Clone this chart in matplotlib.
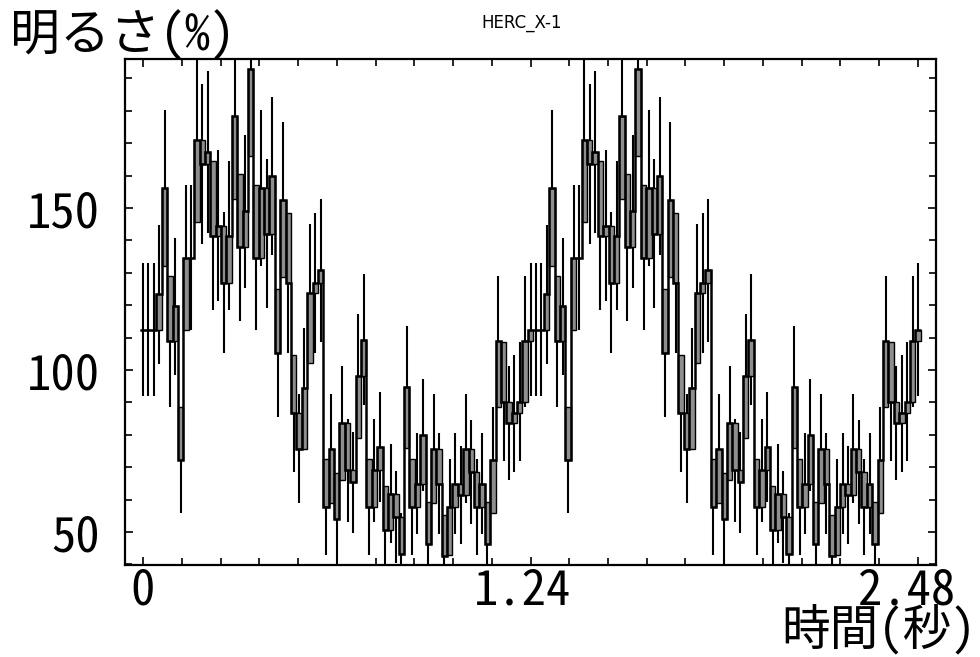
import os, glob
import numpy as np
import matplotlib
matplotlib.use("Agg")
import matplotlib.pyplot as plt
import matplotlib.transforms as mtransforms
from matplotlib import font_manager
from matplotlib.ticker import MultipleLocator, FixedLocator

# ---------------- data (one pulse cycle, shown twice) ----------------
period = 1.24
cycle_values = [112.4, 112.4, 112.4, 123.4, 156.2, 108.8, 119.6, 72.1, 134.6, 134.6,
                170.9, 163.5, 167.3, 141.4, 144.6, 127.0, 141.4, 178.5, 137.9, 149.0,
                192.9, 134.6, 156.2, 142.0, 160.0, 105.2, 152.6, 126.8, 86.6, 75.7,
                94.3, 123.7, 126.8, 130.8, 57.7, 75.7, 54.1, 83.5, 69.0, 65.4,
                98.1, 109.3, 57.7, 69.0, 76.3, 50.5, 61.8, 54.6, 43.2, 94.8,
                57.7, 64.9, 79.9, 46.3, 75.7, 64.9, 42.7, 57.7, 64.9, 61.3,
                75.7, 68.5, 57.7, 64.9, 46.3, 72.1, 108.8, 90.2, 83.5, 86.6,
                90.2, 108.8]
cycle_errors = [20.5, 20.5, 20.5, 21.4, 24.1, 20.1, 21.1, 16.4, 22.4, 22.4,
                25.2, 24.7, 25.0, 23.0, 23.2, 21.7, 23.0, 25.8, 22.7, 23.6,
                26.8, 22.4, 24.1, 23.0, 24.4, 19.8, 23.8, 21.7, 18.0, 16.8,
                18.7, 21.5, 21.7, 22.1, 14.7, 16.8, 14.2, 17.6, 16.0, 15.6,
                19.1, 20.2, 14.7, 16.0, 16.9, 13.7, 15.2, 14.3, 12.7, 18.8,
                14.7, 15.5, 17.3, 13.1, 16.8, 15.5, 12.6, 14.7, 15.5, 15.1,
                16.8, 16.0, 14.7, 15.5, 13.1, 16.4, 20.1, 18.3, 17.6, 18.0,
                18.3, 20.1]
x_tick_values = [0, 1.24, 2.48]
x_tick_labels = ["0", "1.24", "2.48"]
y_tick_values = [50, 100, 150]
y_tick_labels = ["50", "100", "150"]
title = "HERC_X-1"
ylabel = "明るさ(%)"
xlabel = "時間(秒)"

# ---------------- fonts ----------------
big_family = ["Noto Sans CJK JP", "DejaVu Sans"]
try:
    from fontTools.ttLib import TTCollection
    from fontTools import subset
    cands = glob.glob("/usr/share/fonts/**/NotoSansCJK-Regular.ttc", recursive=True)
    if not cands:
        cands = [f.fname for f in font_manager.fontManager.ttflist
                 if f.fname.endswith("NotoSansCJK-Regular.ttc")]
    coll = TTCollection(cands[0])
    target = None
    for fnt in coll.fonts:
        if fnt["name"].getDebugName(1) == "Noto Sans Mono CJK JP":
            target = fnt
            break
    if target is not None:
        opts = subset.Options()
        opts.name_IDs = ["*"]
        opts.name_languages = ["*"]
        opts.notdef_outline = True
        opts.hinting = False
        sub = subset.Subsetter(opts)
        sub.populate(text="0123456789.明るさ(%)時間秒_-HERCX")
        sub.subset(target)
        target.save("nsmono_cjk.otf")
        font_manager.fontManager.addfont("nsmono_cjk.otf")
        big_family = ["Noto Sans Mono CJK JP", "Noto Sans CJK JP", "DejaVu Sans"]
except Exception:
    pass

# ---------------- build series ----------------
vals = np.array(cycle_values + cycle_values + cycle_values[:1])
errs = np.array(cycle_errors + cycle_errors + cycle_errors[:1])
nbin = len(cycle_values)
dx = period / nbin
xc = np.arange(len(vals)) * dx
edges = np.concatenate([xc - dx / 2, [xc[-1] + dx / 2]])

prev = np.concatenate([[vals[0]], vals[:-1]])
diff = prev - vals
box_h = np.sign(diff) * np.minimum(errs, np.abs(diff))

fig = plt.figure(figsize=(9.8, 6.57), dpi=100)
ax = fig.add_axes([125 / 980, 92 / 657, 811 / 980, 506 / 657])

ax.vlines(xc, vals - errs, vals + errs, color="black", linewidth=1.5, zorder=2)
ax.bar(xc, box_h, bottom=vals, width=dx, color="#8e8e8e", edgecolor="black",
       linewidth=1.0, zorder=3)
ax.stairs(vals, edges, baseline=None, color="black", linewidth=1.8, zorder=4)

ax.set_xlim(-0.0577, 2.5377)
ax.set_ylim(39.8, 196.0)

ax.xaxis.set_major_locator(FixedLocator(x_tick_values))
ax.set_xticklabels(x_tick_labels)
ax.xaxis.set_minor_locator(MultipleLocator(0.124))
ax.yaxis.set_major_locator(FixedLocator(y_tick_values))
ax.set_yticklabels(y_tick_labels)
ax.yaxis.set_minor_locator(MultipleLocator(10))

ax.tick_params(which="both", direction="in", top=True, right=True, width=1.2, color="black")
ax.tick_params(which="major", length=6)
ax.tick_params(which="minor", length=5)
ax.tick_params(axis="x", which="major", pad=1, labelsize=35)
ax.tick_params(axis="y", which="major", pad=18, labelsize=35)
for lab in ax.get_xticklabels() + ax.get_yticklabels():
    lab.set_family(big_family)

x_shift_px = [0, -8, -11]
for lab, sh in zip(ax.get_xticklabels(), x_shift_px):
    lab.set_transform(lab.get_transform() +
                      mtransforms.ScaledTranslation(sh / 100, 0, fig.dpi_scale_trans))

for s in ax.spines.values():
    s.set_linewidth(1.6)

fig.text(10 / 980, 1 - 50 / 657, ylabel, ha="left", va="baseline", fontsize=36, family=big_family)
fig.text(976 / 980, 0.002, xlabel, ha="right", va="bottom", fontsize=35, family=big_family)
fig.text(522 / 980, 1 - 23 / 657, title, ha="center", va="center", fontsize=12, family=["DejaVu Sans"])

fig.savefig("out.png", dpi=100)
